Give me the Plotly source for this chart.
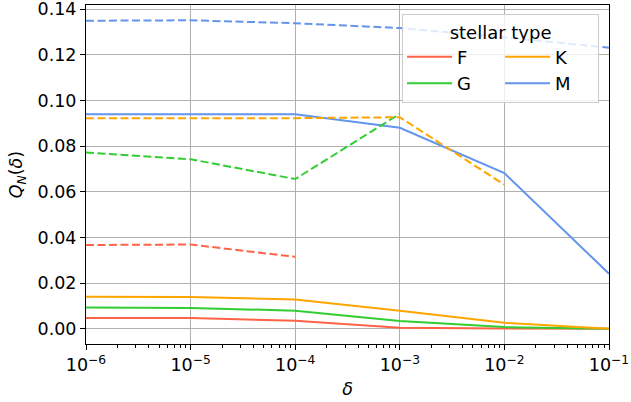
import plotly.graph_objects as go

# Tolerance values (delta) and the fraction Q_N(delta) for each stellar type
delta = [1e-6, 1e-5, 1e-4, 1e-3, 1e-2, 1e-1]

# solid curves
q_F = [0.0047, 0.0047, 0.0035, 0.0004, 0.0001, 0.0]
q_G = [0.0093, 0.0091, 0.0079, 0.0034, 0.0007, 0.0]
q_K = [0.0140, 0.0139, 0.0128, 0.0079, 0.0026, 0.0]
q_M = [0.0940, 0.0940, 0.0940, 0.0881, 0.0682, 0.0241]

# dashed curves (shorter delta ranges for F, G, K)
qd_F = [0.0367, 0.0369, 0.0315]
qd_G = [0.0772, 0.0743, 0.0656, 0.0942]
qd_K = [0.0923, 0.0923, 0.0923, 0.0927, 0.0631]
qd_M = [0.1350, 0.1352, 0.1339, 0.1318, 0.1277, 0.1232]

types = ["F", "G", "K", "M"]
colors = {"F": "#ff6347", "G": "#32cd32", "K": "#ffa500", "M": "#6495ed"}
solid = {"F": q_F, "G": q_G, "K": q_K, "M": q_M}
dashed = {"F": qd_F, "G": qd_G, "K": qd_K, "M": qd_M}
group = {"F": "a", "G": "a", "K": "b", "M": "b"}

x_tickvals = [1e-6, 1e-5, 1e-4, 1e-3, 1e-2, 1e-1]
x_ticktext = ["10<sup>−6</sup>", "10<sup>−5</sup>", "10<sup>−4</sup>",
              "10<sup>−3</sup>", "10<sup>−2</sup>", "10<sup>−1</sup>"]
y_tickvals = [0.00, 0.02, 0.04, 0.06, 0.08, 0.10, 0.12, 0.14]

minor_vals = [m * 10.0 ** e for e in range(-6, -1) for m in range(2, 10)]

FONT = "DejaVu Sans"
fig = go.Figure()

for t in types:
    fig.add_trace(go.Scatter(
        x=delta[:len(solid[t])], y=solid[t], mode="lines", name=t,
        line=dict(color=colors[t], width=2),
        legendgroup=group[t], showlegend=True,
    ))
for t in types:
    fig.add_trace(go.Scatter(
        x=delta[:len(dashed[t])], y=dashed[t], mode="lines", name=t,
        line=dict(color=colors[t], width=2, dash="8px,3.5px"),
        legendgroup=group[t], showlegend=False,
    ))

axis_common = dict(
    showline=True, linecolor="#000000", linewidth=1, mirror=True,
    ticks="outside", ticklen=5, tickwidth=1, tickcolor="#000000",
    showgrid=True, gridcolor="#b0b0b0", gridwidth=1,
    zeroline=False, ticklabeloverflow="allow",
    tickfont=dict(family=FONT, size=17.5, color="#000000"),
)

fig.update_layout(
    width=631, height=402,
    margin=dict(l=86, r=22, t=5, b=58, autoexpand=False),
    paper_bgcolor="white", plot_bgcolor="white",
    font=dict(family=FONT, size=17.5, color="#000000"),
    xaxis=dict(
        type="log", range=[-6, -1],
        tickvals=x_tickvals, ticktext=x_ticktext,
        minor=dict(ticks="outside", ticklen=3, tickwidth=1, tickcolor="#000000",
                   tickvals=minor_vals, showgrid=False),
        title=dict(text="<i>δ</i>", font=dict(family=FONT, size=17.5), standoff=8),
        **axis_common,
    ),
    yaxis=dict(
        range=[-0.0067, 0.1419],
        tickvals=y_tickvals, tickformat=".2f",
        title=dict(text="<i>Q</i><sub><i>N</i></sub>(<i>δ</i>)",
                   font=dict(family=FONT, size=17.5), standoff=10),
        **axis_common,
    ),
    legend=dict(
        orientation="h", traceorder="grouped",
        x=0.981, xanchor="right", y=0.973, yanchor="top",
        bgcolor="rgba(255,255,255,0.8)", bordercolor="#cccccc", borderwidth=1,
        itemwidth=45, tracegroupgap=0, entrywidth=38,
        title=dict(text="stellar type", side="top center",
                   font=dict(family=FONT, size=18)),
        font=dict(family=FONT, size=18),
    ),
)

fig.write_html("out.html")
